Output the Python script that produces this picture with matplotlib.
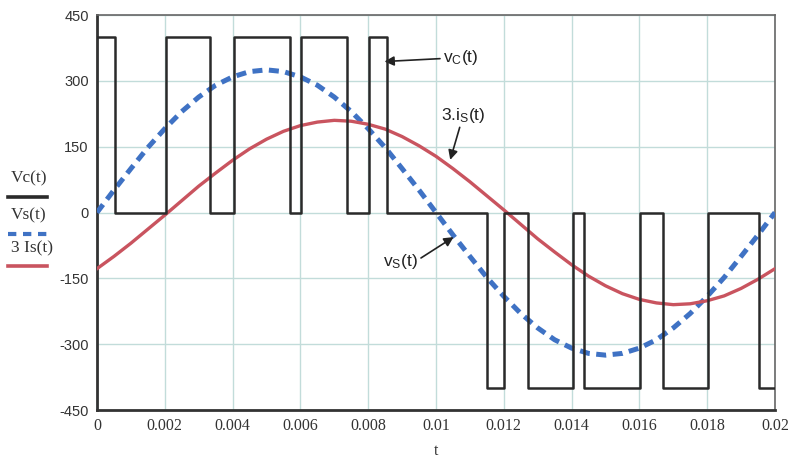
import matplotlib
matplotlib.use("Agg")
import matplotlib.pyplot as plt
from matplotlib.lines import Line2D

plt.rcParams['mathtext.fontset'] = 'custom'
plt.rcParams['mathtext.rm'] = 'Liberation Sans'
plt.rcParams['mathtext.it'] = 'Liberation Sans'

# ---- data ----
t_samples = [i * 0.0005 for i in range(41)]
vs_values = [0, 51, 100, 148, 191, 230, 263, 290, 309, 321, 325,
             321, 309, 290, 263, 230, 191, 148, 100, 51, 0,
             -51, -100, -148, -191, -230, -263, -290, -309, -321, -325,
             -321, -309, -290, -263, -230, -191, -148, -100, -51, 0]
is3_values = [-128, -100, -70, -38, -6, 27, 60, 90, 119, 145, 167,
              185, 198, 206, 210, 208, 201, 190, 173, 152, 128,
              100, 70, 38, 6, -27, -60, -90, -119, -145, -167,
              -185, -198, -206, -210, -208, -201, -190, -173, -152, -128]
vc_times = [0, 0.00053, 0.00204, 0.00332, 0.00403, 0.00568, 0.00603, 0.00736,
            0.00802, 0.00856, 0.01149, 0.01202, 0.01271, 0.01405, 0.01437,
            0.01602, 0.01671, 0.01803, 0.01954, 0.02]
vc_levels = [400, 0, 400, 0, 400, 0, 400, 0, 400, 0,
             -400, 0, -400, 0, -400, 0, -400, 0, -400, -400]
x_ticks = [0, 0.002, 0.004, 0.006, 0.008, 0.01, 0.012, 0.014, 0.016, 0.018, 0.02]
x_tick_labels = ['0', '0.002', '0.004', '0.006', '0.008', '0.01', '0.012',
                 '0.014', '0.016', '0.018', '0.02']
y_ticks = [-450, -300, -150, 0, 150, 300, 450]

fig = plt.figure(figsize=(7.96, 4.62), dpi=100)
ax = fig.add_axes([97/796, 1-410/462, (775-97)/796, (410-15)/462])

grid_c = '#c2dcda'
ax.set_xlim(0, 0.02)
ax.set_ylim(-450, 450)
ax.set_xticks(x_ticks)
ax.set_xticklabels(x_tick_labels, family='Liberation Serif', fontsize=11.5, color='#333333')
ax.set_yticks(y_ticks)
ax.set_yticklabels([str(v) for v in y_ticks], family='Liberation Sans', fontsize=10.5, color='#333333')
ax.tick_params(length=0, pad=6)
ax.grid(True, color=grid_c, linewidth=1.0)
ax.set_axisbelow(True)
for s in ['left', 'bottom']:
    ax.spines[s].set_linewidth(2.0)
    ax.spines[s].set_color('#333333')
for s in ['top', 'right']:
    ax.spines[s].set_linewidth(1.2)
    ax.spines[s].set_color('#666666')

ax.set_xlabel('t', family='Liberation Serif', fontsize=11.5, color='#333333', labelpad=6)

blue = '#3f72c4'
red = '#c9545f'
ax.plot(vc_times, vc_levels, drawstyle='steps-post', color='#2a2a2a', linewidth=1.8, zorder=4)
ax.plot(t_samples, vs_values, color=blue, linewidth=3.6, linestyle=(0, (2.0, 1.3)), zorder=3)
ax.plot(t_samples, is3_values, color=red, linewidth=2.4, zorder=3)

ann_kw = dict(fontsize=12.5, family='Liberation Sans', color='#222222')
arrow = dict(arrowstyle='-|>', color='#222222', linewidth=1.2, mutation_scale=14,
             shrinkA=0, shrinkB=0)
ax.annotate(r'v$_\mathrm{C}$(t)', xy=(0.00848, 344), xytext=(0.0102, 353),
            va='center', ha='left', arrowprops=arrow, **ann_kw)
ax.annotate(r'3.i$_\mathrm{S}$(t)', xy=(0.01042, 120), xytext=(0.01015, 222),
            va='center', ha='left', arrowprops=arrow, **ann_kw)
ax.annotate(r'v$_\mathrm{S}$(t)', xy=(0.01052, -56), xytext=(0.00845, -112),
            va='center', ha='left', arrowprops=dict(arrow, relpos=(1.0, 0.6)), **ann_kw)

# legend at left, labels above line samples
leg_items = [('Vc(t)', '#2a2a2a', '-', 2.6, 178, 197),
             ('Vs(t)', blue, (0, (2.0, 1.6)), 3.0, 215, 234),
             ('3 Is(t)', red, '-', 2.6, 248, 266)]
for label, col, ls, lw, ty, ly in leg_items:
    fig.text(11/796, 1-ty/462, label, family='Liberation Serif', fontsize=12.5,
             color='#333333', va='center', ha='left')
    fig.add_artist(Line2D([8/796, 47/796], [1-ly/462, 1-ly/462], color=col,
                          linestyle=ls, linewidth=lw))

fig.savefig('out.png', dpi=100)
